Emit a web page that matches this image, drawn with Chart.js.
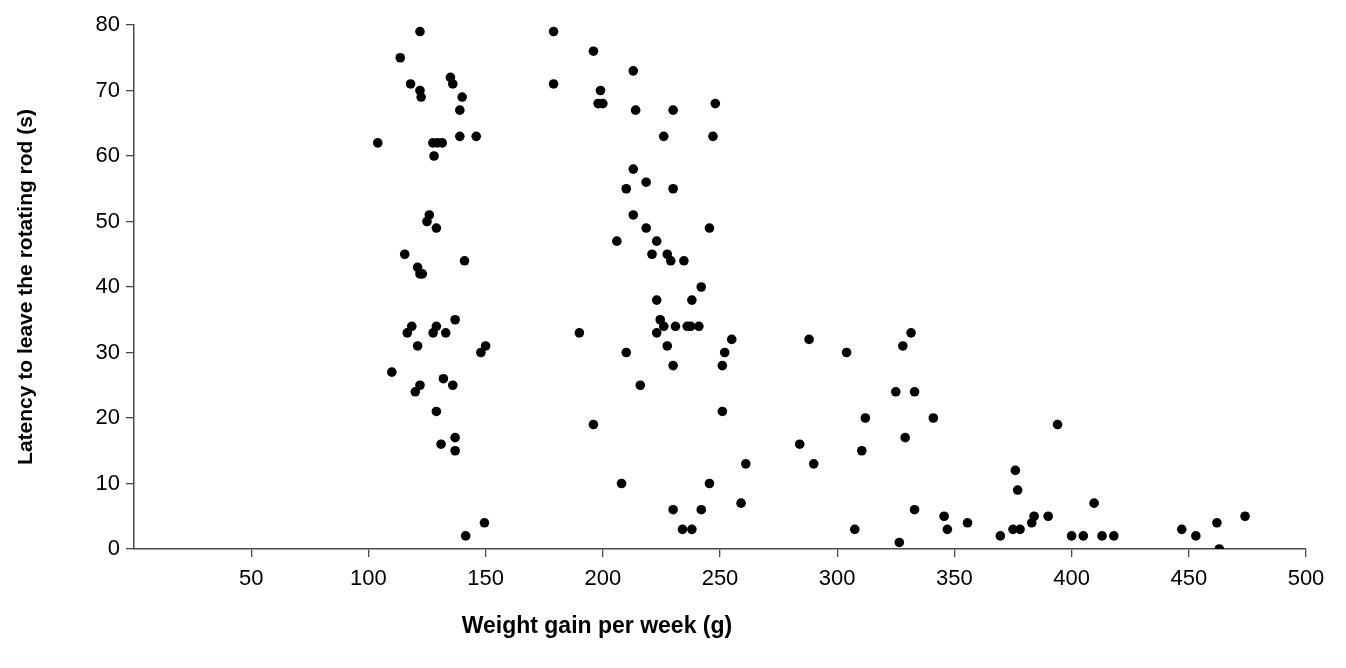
<!DOCTYPE html>
<html>
<head>
<meta charset="utf-8">
<script src="https://cdn.jsdelivr.net/npm/chart.js@4/dist/chart.umd.min.js"></script>
<style>
  html, body { margin: 0; padding: 0; background: #fff; }
  #wrap { width: 1346px; height: 668px; }
</style>
</head>
<body>
<div id="wrap"><canvas id="scatterChart" width="1346" height="668"></canvas></div>
<script>
// weight gain per week (g) and latency (s), one entry per animal
const weightGain = [
    122, 113.6, 118, 122, 122.5, 135, 136, 140, 139, 139, 146, 104, 127.5, 129.5, 131.5, 128,
    126, 125, 129, 115.5, 121, 122, 123, 141, 118.5, 116.6, 129, 127.6, 133, 137, 121, 150,
    148, 110, 122, 120, 132, 136, 129, 137, 131, 137, 149.5, 141.5,
    179, 196, 213, 179, 199, 198, 200, 214, 230, 248, 226, 247, 213, 218.5, 210, 230,
    213, 218.5, 245.5, 206, 223, 221, 227.5, 229, 234.6, 242, 223, 238, 224.5, 226, 231, 236,
    237.5, 241, 223, 190, 255, 227.5, 210, 252, 230, 251, 216, 251, 196, 261, 208, 245.5,
    230, 242, 259, 234, 238,
    288, 304, 331.5, 328, 325, 333, 312, 341, 329, 284, 310.5, 290, 376, 377, 333, 345.6,
    307.5, 347, 355.6, 369.6, 326.5, 375, 378, 383, 384, 390,
    394, 409.6, 400, 405, 413, 418, 447, 453, 462, 463, 474
];
const latency = [
    79, 75, 71, 70, 69, 72, 71, 69, 67, 63, 63, 62, 62, 62, 62, 60,
    51, 50, 49, 45, 43, 42, 42, 44, 34, 33, 34, 33, 33, 35, 31, 31,
    30, 27, 25, 24, 26, 25, 21, 17, 16, 15, 4, 2,
    79, 76, 73, 71, 70, 68, 68, 67, 67, 68, 63, 63, 58, 56, 55, 55,
    51, 49, 49, 47, 47, 45, 45, 44, 44, 40, 38, 38, 35, 34, 34, 34,
    34, 34, 33, 33, 32, 31, 30, 30, 28, 28, 25, 21, 19, 13, 10, 10,
    6, 6, 7, 3, 3,
    32, 30, 33, 31, 24, 24, 20, 20, 17, 16, 15, 13, 12, 9, 6, 5,
    3, 3, 4, 2, 1, 3, 3, 4, 5, 5,
    19, 7, 2, 2, 2, 2, 3, 2, 4, 0, 5
];

const xTicks = [50, 100, 150, 200, 250, 300, 350, 400, 450, 500];
const yTicks = [0, 10, 20, 30, 40, 50, 60, 70, 80];
const xTitle = 'Weight gain per week (g)';
const yTitle = 'Latency to leave the rotating rod (s)';

const axisColor = '#4a4a4a';
const tickFont = { family: 'Liberation Sans, Arial, sans-serif', size: 22 };
const titleFont = { family: 'Liberation Sans, Arial, sans-serif', size: 21, weight: 'bold' };

const points = weightGain.map((w, i) => ({ x: w, y: latency[i] }));

// x title sits left of the plot centre in the original, so draw it by hand
const xTitlePlugin = {
    id: 'xTitle',
    afterDraw(chart) {
        const { ctx, chartArea } = chart;
        ctx.save();
        ctx.font = 'bold 23px "Liberation Sans", Arial, sans-serif';
        ctx.fillStyle = '#000';
        ctx.textAlign = 'center';
        ctx.textBaseline = 'middle';
        const cx = chartArea.left + (chartArea.right - chartArea.left) * 0.395;
        ctx.fillText(xTitle, cx, chartArea.bottom + 78);
        ctx.restore();
    }
};

const ctx = document.getElementById('scatterChart').getContext('2d');
new Chart(ctx, {
    type: 'scatter',
    data: {
        datasets: [{
            data: points,
            backgroundColor: '#000',
            borderColor: '#000',
            pointRadius: 4.8,
            pointHoverRadius: 4.8,
            borderWidth: 0
        }]
    },
    options: {
        responsive: false,
        animation: false,
        layout: { padding: { left: 0, right: 40, top: 25, bottom: 0 } },
        plugins: {
            legend: { display: false },
            tooltip: { enabled: false }
        },
        scales: {
            x: {
                type: 'linear',
                min: 0,
                max: 500,
                afterFit: scale => { scale.height = 119; },
                afterBuildTicks: scale => {
                    scale.ticks = xTicks.map(v => ({ value: v }));
                },
                border: { display: true, color: axisColor, width: 1.5 },
                grid: { display: true, drawOnChartArea: false, drawTicks: true, tickLength: 8, color: axisColor, lineWidth: 1.3 },
                ticks: { color: '#000', font: tickFont, padding: 9, maxRotation: 0, autoSkip: false }
            },
            y: {
                type: 'linear',
                min: 0,
                max: 80,
                afterFit: scale => { scale.width = 134; },
                afterBuildTicks: scale => {
                    scale.ticks = yTicks.map(v => ({ value: v }));
                },
                border: { display: true, color: axisColor, width: 1.5 },
                grid: { display: true, drawOnChartArea: false, drawTicks: true, tickLength: 8, color: axisColor, lineWidth: 1.3 },
                ticks: { color: '#000', font: tickFont, padding: 6, autoSkip: false },
                title: {
                    display: true,
                    text: yTitle,
                    color: '#000',
                    font: titleFont,
                    padding: { top: 14, bottom: 0 }
                }
            }
        }
    },
    plugins: [xTitlePlugin]
});
</script>
</body>
</html>
